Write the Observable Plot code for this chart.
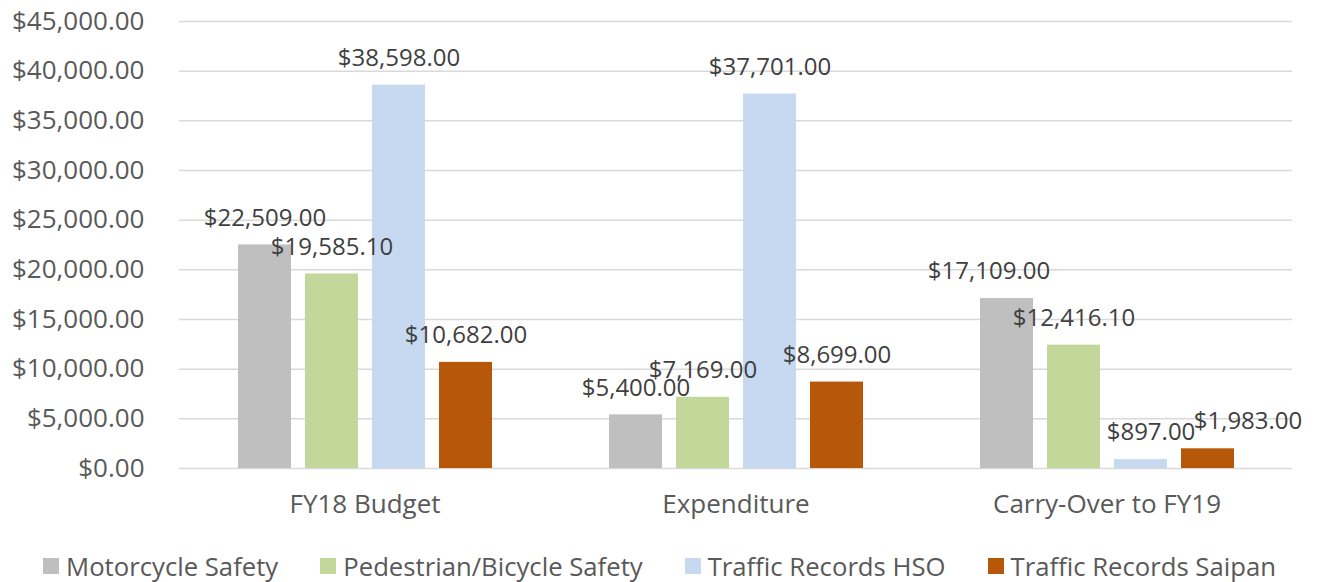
<!DOCTYPE html>
<html>
<head>
<meta charset="utf-8">
<script src="https://cdn.jsdelivr.net/npm/d3@7"></script>
<script src="https://cdn.jsdelivr.net/npm/@observablehq/plot@0.6"></script>
<style>
  html, body { margin: 0; padding: 0; background: #fff; }
  #chart { width: 1319px; }
  .legend { display: flex; justify-content: center; gap: 42px; height: 52px; padding-top: 20px; box-sizing: border-box;
            align-items: center; font-family: "Open Sans", sans-serif; font-size: 25.7px; color: #595959; }
  .legend .item { display: flex; align-items: center; }
  .legend .sw { width: 16px; height: 16px; margin-right: 7px; }
</style>
</head>
<body>
<div id="chart"></div>
<script>
const categories = ["FY18 Budget", "Expenditure", "Carry-Over to FY19"];
const seriesNames = ["Motorcycle Safety", "Pedestrian/Bicycle Safety", "Traffic Records HSO", "Traffic Records Saipan"];
const motorcycle = [22509.00, 5400.00, 17109.00];
const pedestrian = [19585.10, 7169.00, 12416.10];
const hso = [38598.00, 37701.00, 897.00];
const saipan = [10682.00, 8699.00, 1983.00];
const colors = ["#BFBFBF", "#C4D79B", "#C6D9F0", "#B7570A"];
const yTicks = [0, 5000, 10000, 15000, 20000, 25000, 30000, 35000, 40000, 45000];

const seriesValues = [motorcycle, pedestrian, hso, saipan];
const data = [];
categories.forEach((c, i) => {
  seriesNames.forEach((s, j) => {
    data.push({category: c, series: s, value: seriesValues[j][i]});
  });
});

const money = v => "$" + d3.format(",.2f")(v);

// Excel moved a few labels sideways to avoid collisions (label offsets, in px)
const nudge = d =>
  d.category === "Carry-Over to FY19" && d.series === "Motorcycle Safety" ? -18 :
  d.category === "Carry-Over to FY19" && d.series === "Traffic Records HSO" ? 10 :
  d.category === "Carry-Over to FY19" && d.series === "Traffic Records Saipan" ? 40 : 0;
const nudges = Array.from(new Set(data.map(nudge)));

const labelMarks = nudges.map(n =>
  Plot.text(data.filter(d => nudge(d) === n), {
    fx: "category", x: "series", y: "value", text: d => money(d.value),
    dx: n, dy: -27, fontSize: 24, fill: "#404040", lineAnchor: "middle"
  })
);

const chart = Plot.plot({
  width: 1319,
  height: 530,
  marginLeft: 178,
  marginRight: 27,
  marginTop: 21,
  marginBottom: 62,
  style: {fontFamily: "'Open Sans', sans-serif", color: "#595959", background: "#fff", overflow: "visible"},
  fx: {domain: categories, padding: 0, label: null, axis: null},
  x: {domain: seriesNames, paddingInner: 0.21, paddingOuter: 0.86, axis: null},
  y: {domain: [0, 45000], label: null},
  color: {domain: seriesNames, range: colors},
  marks: [
    Plot.ruleY(yTicks, {stroke: "#D9D9D9", strokeWidth: 1.5}),
    Plot.axisY({ticks: yTicks, tickFormat: money, tickSize: 0, tickPadding: 35, fontSize: 26, fill: "#595959", label: null}),
    Plot.barY(data, {fx: "category", x: "series", y: "value", fill: "series"}),
    ...labelMarks,
    Plot.axisFx({anchor: "bottom", tickSize: 0, tickPadding: 26, fontSize: 26, fill: "#595959", label: null})
  ]
});
document.getElementById("chart").appendChild(chart);

const legend = document.createElement("div");
legend.className = "legend";
seriesNames.forEach((s, j) => {
  const item = document.createElement("div");
  item.className = "item";
  const sw = document.createElement("span");
  sw.className = "sw";
  sw.style.background = colors[j];
  const t = document.createElement("span");
  t.textContent = s;
  item.appendChild(sw);
  item.appendChild(t);
  legend.appendChild(item);
});
document.getElementById("chart").appendChild(legend);
</script>
</body>
</html>
